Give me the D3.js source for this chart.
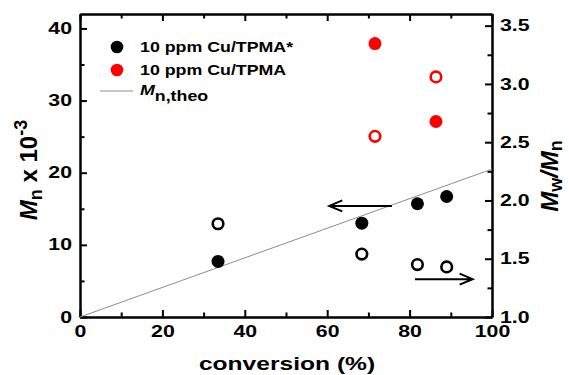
<!DOCTYPE html>
<html><head><meta charset="utf-8">
<script src="https://cdn.jsdelivr.net/npm/d3@7"></script>
<style>
html,body{margin:0;padding:0;background:#fff;}
svg{display:block;font-family:"Liberation Sans",Arial,sans-serif;font-weight:bold;}
</style></head>
<body>
<svg id="c" width="569" height="375"></svg>
<script>
// ---- data ----
const convStar = [33.5, 68.4, 81.9, 89.0];          // conversion (%) 10 ppm Cu/TPMA*
const mnStar = [7.7, 13.0, 15.7, 16.7];             // Mn x 10^-3
const dispStar = [1.80, 1.54, 1.45, 1.43];          // Mw/Mn
const convTpma = [71.6, 86.4];                      // conversion (%) 10 ppm Cu/TPMA
const mnTpma = [37.9, 27.1];
const dispTpma = [2.55, 3.06];
const theoConv = [0, 100];
const theoMn = [0, 20.5];
const xTicks = [0, 20, 40, 60, 80, 100];
const xMinor = [10, 30, 50, 70, 90];
const yLTicks = [0, 10, 20, 30, 40];
const yLMinor = [5, 15, 25, 35];
const yRTicks = [1.0, 1.5, 2.0, 2.5, 3.0, 3.5];
const yRMinor = [1.25, 1.75, 2.25, 2.75, 3.25];
const legendLabels = ["10 ppm Cu/TPMA*", "10 ppm Cu/TPMA"];
const legendColors = ["#000000", "#ff0000"];

const SX = 1.33;
const svg = d3.select("#c");
const L = 80, R = 492, T = 14, B = 317;
const x = d3.scaleLinear().domain([0, 100]).range([L, R]);
const yL = d3.scaleLinear().domain([0, 42]).range([B, T]);
const yR = d3.scaleLinear().domain([1, 3.6]).range([B, T]);

function stretch(sel) {
  sel.selectAll("text").each(function () {
    const xx = +this.getAttribute("x") || 0;
    this.setAttribute("x", xx / SX);
    this.setAttribute("transform", "scale(" + SX + ",1)");
  });
}
function styleAxis(g) {
  g.select(".domain").attr("stroke", "#000").attr("stroke-width", 2);
  g.selectAll(".tick line").attr("stroke", "#000").attr("stroke-width", 2);
  g.selectAll("text").attr("font-size", 16).attr("font-weight", "bold")
    .attr("font-family", '"Liberation Sans",Arial,sans-serif').attr("fill", "#000");
}
const fmtR = d3.format(".1f");

// bottom axis
const gB = svg.append("g").attr("transform", `translate(0,${B})`)
  .call(d3.axisBottom(x).tickValues(xTicks).tickSizeInner(-7).tickSizeOuter(0).tickPadding(9).tickFormat(d3.format("d")));
styleAxis(gB); stretch(gB);
const gBm = svg.append("g").attr("transform", `translate(0,${B})`)
  .call(d3.axisBottom(x).tickValues(xMinor).tickSizeInner(-4.5).tickSizeOuter(0).tickFormat(""));
styleAxis(gBm);
// top axis
const gT = svg.append("g").attr("transform", `translate(0,${T})`)
  .call(d3.axisTop(x).tickValues(xTicks).tickSizeInner(-7).tickSizeOuter(0).tickFormat(""));
styleAxis(gT);
const gTm = svg.append("g").attr("transform", `translate(0,${T})`)
  .call(d3.axisTop(x).tickValues(xMinor).tickSizeInner(-4.5).tickSizeOuter(0).tickFormat(""));
styleAxis(gTm);
// left axis
const gL = svg.append("g").attr("transform", `translate(${L},0)`)
  .call(d3.axisLeft(yL).tickValues(yLTicks).tickSizeInner(-7).tickSizeOuter(0).tickPadding(8).tickFormat(d3.format("d")));
styleAxis(gL); stretch(gL);
const gLm = svg.append("g").attr("transform", `translate(${L},0)`)
  .call(d3.axisLeft(yL).tickValues(yLMinor).tickSizeInner(-4.5).tickSizeOuter(0).tickFormat(""));
styleAxis(gLm);
// right axis
const gR = svg.append("g").attr("transform", `translate(${R},0)`)
  .call(d3.axisRight(yR).tickValues(yRTicks).tickSizeInner(-7).tickSizeOuter(0).tickPadding(8).tickFormat(fmtR));
styleAxis(gR); stretch(gR);
const gRm = svg.append("g").attr("transform", `translate(${R},0)`)
  .call(d3.axisRight(yR).tickValues(yRMinor).tickSizeInner(-4.5).tickSizeOuter(0).tickFormat(""));
styleAxis(gRm);

// theoretical line
svg.append("path")
  .datum(theoConv.map((c, i) => [c, theoMn[i]]))
  .attr("d", d3.line().x(d => x(d[0])).y(d => yL(d[1])))
  .attr("stroke", "#8c8c8c").attr("stroke-width", 1).attr("fill", "none");

// markers
const R0 = 6.5;
svg.append("g").selectAll("circle").data(convStar.map((c, i) => [c, mnStar[i]])).join("circle")
  .attr("cx", d => x(d[0])).attr("cy", d => yL(d[1])).attr("r", R0).attr("fill", "#000");
svg.append("g").selectAll("circle").data(convStar.map((c, i) => [c, dispStar[i]])).join("circle")
  .attr("cx", d => x(d[0])).attr("cy", d => yR(d[1])).attr("r", 5.3).attr("fill", "#fff")
  .attr("stroke", "#000").attr("stroke-width", 2.6);
svg.append("g").selectAll("circle").data(convTpma.map((c, i) => [c, mnTpma[i]])).join("circle")
  .attr("cx", d => x(d[0])).attr("cy", d => yL(d[1])).attr("r", R0).attr("fill", "#ff0000");
svg.append("g").selectAll("circle").data(convTpma.map((c, i) => [c, dispTpma[i]])).join("circle")
  .attr("cx", d => x(d[0])).attr("cy", d => yR(d[1])).attr("r", 5.3).attr("fill", "#fff")
  .attr("stroke", "#ff0000").attr("stroke-width", 2.6);

// arrows
function arrow(x1, y1, x2, y2) {
  const dir = Math.sign(x2 - x1);
  const p = d3.path();
  p.moveTo(x1, y1); p.lineTo(x2, y2);
  p.moveTo(x2 - dir * 13, y2 - 5.5); p.lineTo(x2, y2); p.lineTo(x2 - dir * 13, y2 + 5.5);
  svg.append("path").attr("d", p.toString()).attr("stroke", "#000").attr("stroke-width", 2)
    .attr("fill", "none").attr("stroke-linejoin", "miter");
}
arrow(x(75.7), yL(15.4), x(60.5), yL(15.4));
arrow(x(81.3), yR(1.325), x(95.3), yR(1.325));

// legend
const LSX = 1.27;
const lg = svg.append("g");
const legY = [47, 70];
legendLabels.forEach((lab, i) => {
  lg.append("circle").attr("cx", 117).attr("cy", legY[i]).attr("r", 6.3).attr("fill", legendColors[i]);
  lg.append("text").attr("transform", `translate(140,${legY[i] + 5}) scale(${LSX},1)`)
    .attr("font-size", 14).text(lab);
});
lg.append("line").attr("x1", 100).attr("x2", 133).attr("y1", 91).attr("y2", 91)
  .attr("stroke", "#8c8c8c").attr("stroke-width", 1);
const lt = lg.append("text").attr("transform", `translate(140,95) scale(${LSX},1)`).attr("font-size", 14);
lt.append("tspan").attr("font-style", "italic").text("M");
lt.append("tspan").attr("dy", 6).attr("font-size", 14).text("n,theo");

// x title
svg.append("text").attr("transform", `translate(287,370) scale(${SX},1)`)
  .attr("text-anchor", "middle").attr("font-size", 18.5).text("conversion (%)");

// left title
const tl = svg.append("text").attr("transform", "translate(37,170) rotate(-90)")
  .attr("text-anchor", "middle").attr("font-size", 24);
tl.append("tspan").attr("font-style", "italic").text("M");
tl.append("tspan").attr("font-size", 18).attr("dy", 5).text("n");
tl.append("tspan").attr("dy", -5).text(" x 10");
tl.append("tspan").attr("font-size", 18).attr("dy", -10).text("-3");

// right title
const tr = svg.append("text").attr("transform", "translate(558,176) rotate(-90)")
  .attr("text-anchor", "middle").attr("font-size", 24);
tr.append("tspan").attr("font-style", "italic").text("M");
tr.append("tspan").attr("font-size", 18).attr("dy", 4).text("w");
tr.append("tspan").attr("dy", -4).attr("font-style", "italic").text("/M");
tr.append("tspan").attr("font-size", 18).attr("dy", 4).text("n");
</script>
</body></html>
